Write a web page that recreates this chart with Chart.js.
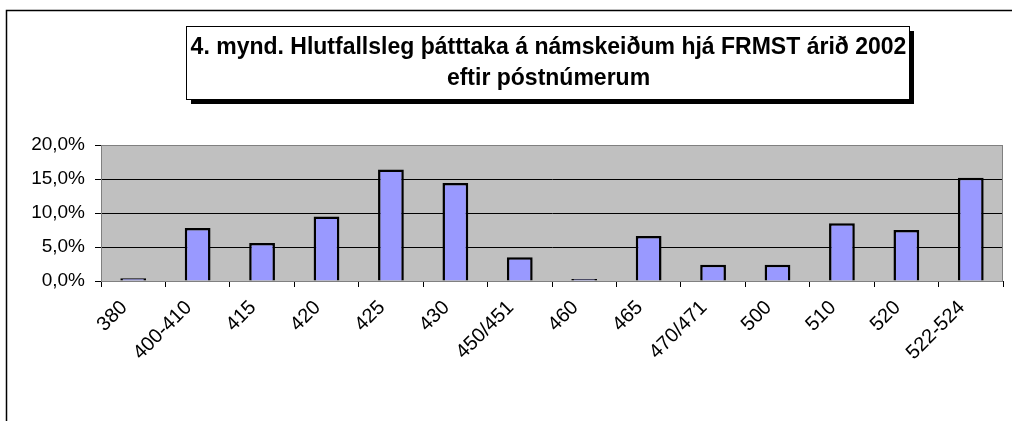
<!DOCTYPE html>
<html>
<head>
<meta charset="utf-8">
<script src="https://cdn.jsdelivr.net/npm/chart.js@4/dist/chart.umd.min.js"></script>
<style>
  html, body { margin: 0; padding: 0; background: #fff; }
  #wrap { width: 1012px; height: 421px; position: relative; }
</style>
</head>
<body>
<div id="wrap"><canvas id="chart" width="1012" height="421"></canvas></div>
<script>
const titleLines = ["4. mynd. Hlutfallsleg þátttaka á námskeiðum hjá FRMST árið 2002", "eftir póstnúmerum"];
const postcodes = ["380", "400-410", "415", "420", "425", "430", "450/451", "460", "465", "470/471", "500", "510", "520", "522-524"];
const shares = [0.4, 7.8, 5.6, 9.5, 16.4, 14.4, 3.5, 0.3, 6.6, 2.4, 2.4, 8.5, 7.5, 15.2];
const yTicks = [0, 5, 10, 15, 20];

const FONT = "'Liberation Sans', Arial, sans-serif";

// outer frame, gray plot background, title box with shadow
const decor = {
    id: "decor",
    beforeDraw(chart) {
        const c = chart.ctx;
        const a = chart.chartArea;
        c.save();
        c.strokeStyle = "#000";
        c.lineWidth = 1.5;
        c.beginPath();
        c.moveTo(6.5, 430);
        c.lineTo(6.5, 10.5);
        c.lineTo(1020, 10.5);
        c.stroke();

        c.fillStyle = "#c0c0c0";
        c.fillRect(a.left, a.top, a.right - a.left, a.bottom - a.top);
        c.restore();
    },
    afterDraw(chart) {
        const c = chart.ctx;
        const a = chart.chartArea;
        c.save();
        c.strokeStyle = "#808080";
        c.lineWidth = 1;
        c.strokeRect(a.left + 0.5, a.top + 0.5, a.right - a.left - 1, a.bottom - a.top);

        // title box
        const bx = 186, by = 26, bw = 723, bh = 73;
        c.fillStyle = "#000";
        c.fillRect(bx + 5, by + 5, bw, bh);
        c.fillStyle = "#fff";
        c.fillRect(bx, by, bw, bh);
        c.strokeStyle = "#000";
        c.lineWidth = 1;
        c.strokeRect(bx + 0.5, by + 0.5, bw, bh);

        c.fillStyle = "#000";
        c.font = "bold 23px " + FONT;
        c.textAlign = "center";
        c.textBaseline = "middle";
        c.fillText(titleLines[0], bx + bw / 2 + 1, 48);
        c.fillText(titleLines[1], bx + bw / 2 + 1, 79);
        c.restore();
    }
};

new Chart(document.getElementById("chart"), {
    type: "bar",
    data: {
        labels: postcodes,
        datasets: [{
            data: shares,
            backgroundColor: "#9999ff",
            borderColor: "#000",
            borderWidth: 2.5,
            barPercentage: 0.4,
            categoryPercentage: 1
        }]
    },
    options: {
        responsive: false,
        animation: false,
        layout: { padding: { top: 145, left: 0, right: 9, bottom: 0 } },
        plugins: {
            legend: { display: false },
            tooltip: { enabled: false }
        },
        scales: {
            x: {
                offset: true,
                grid: {
                    display: true,
                    offset: true,
                    drawOnChartArea: false,
                    drawTicks: true,
                    tickLength: 6,
                    color: "#000"
                },
                border: { display: true, color: "#000", width: 1 },
                ticks: {
                    color: "#000",
                    font: { family: FONT, size: 20 },
                    maxRotation: 45,
                    minRotation: 45,
                    autoSkip: false,
                    padding: 9,
                    labelOffset: -9
                },
                afterFit(scale) { scale.height = 140; }
            },
            y: {
                min: 0,
                max: 20,
                afterBuildTicks(scale) {
                    scale.ticks = yTicks.map(v => ({ value: v }));
                },
                grid: {
                    color: "#000",
                    lineWidth: 1,
                    tickLength: 6,
                    drawTicks: true
                },
                border: { display: true, color: "#000", width: 1 },
                ticks: {
                    color: "#000",
                    font: { family: FONT, size: 19 },
                    padding: 10,
                    callback: v => v.toFixed(1).replace(".", ",") + "%"
                },
                afterFit(scale) { scale.width = 101; }
            }
        }
    },
    plugins: [decor]
});
</script>
</body>
</html>
